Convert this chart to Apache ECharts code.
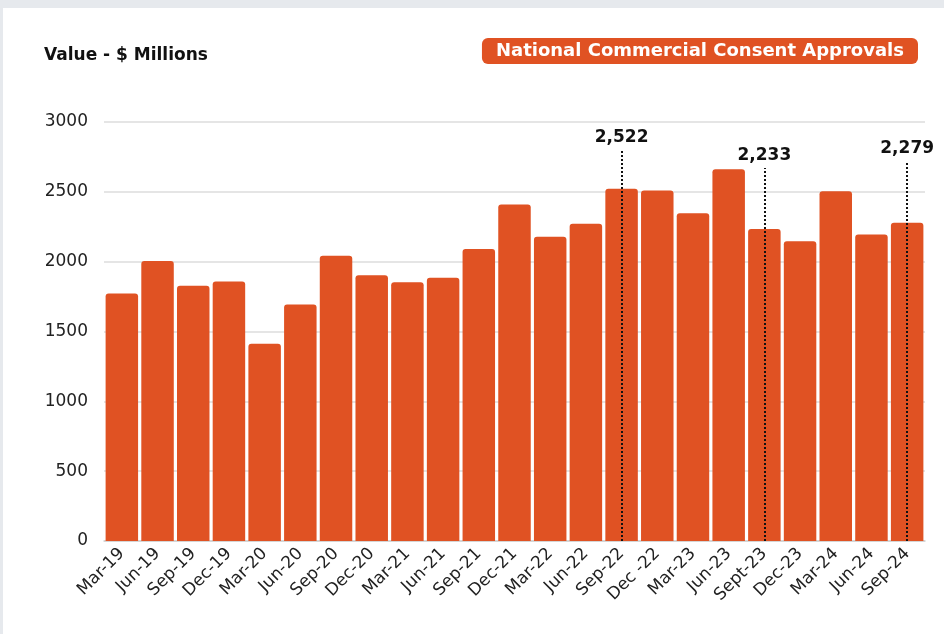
<!DOCTYPE html>
<html><head><meta charset="utf-8">
<style>
html,body{margin:0;padding:0;background:#e6e9ed;}
#wrap{position:absolute;left:3px;top:8px;width:941px;height:626px;background:#fff;}
#c{position:absolute;left:-3px;top:-8px;width:944px;height:634px;}
</style>
<script src="https://cdn.jsdelivr.net/npm/echarts@6/dist/echarts.min.js"></script>
</head><body><div id="wrap"><div id="c"></div></div>
<script>
const categories = ['Mar-19','Jun-19','Sep-19','Dec-19','Mar-20','Jun-20','Sep-20','Dec-20','Mar-21','Jun-21','Sep-21','Dec-21','Mar-22','Jun-22','Sep-22','Dec -22','Mar-23','Jun-23','Sept-23','Dec-23','Mar-24','Jun-24','Sep-24'];
const values = [1772,2005,1828,1858,1412,1693,2042,1902,1852,1885,2090,2410,2178,2271,2522,2510,2346,2661,2233,2147,2505,2195,2279];
const yTicks = {min:0, max:3000, interval:500};
const annotCats = ['Sep-22','Sept-23','Sep-24'];
const annotLabels = ['2,522','2,233','2,279'];
const annotTop = [2800,2670,2720];
const titleText = 'Value - $ Millions';
const seriesName = 'National Commercial Consent Approvals';

const font = '"DejaVu Sans", sans-serif';
const chart = echarts.init(document.getElementById('c'), null, {renderer:'canvas'});
const markData = annotCats.map((c,i)=>[
  {coord:[c,0], symbol:'none'},
  {coord:[c,annotTop[i]], symbol:'none', label:{show:true, position:'end', formatter:annotLabels[i], distance:4}}
]);
chart.setOption({
  animation:false,
  backgroundColor:'transparent',
  title:[
    {text:titleText, left:39, top:42, textStyle:{fontFamily:font, fontSize:17, fontWeight:'bold', color:'#111'}},
    {text:seriesName, right:26, top:38, backgroundColor:'#e05223', borderRadius:6, padding:[4,14,4,14],
     textStyle:{fontFamily:font, fontSize:18, fontWeight:'bold', color:'#fff'}}
  ],
  grid:{left:104, right:19, top:122, bottom:93},
  xAxis:{type:'category', data:categories,
    axisLine:{lineStyle:{color:'#cfcfcf', width:1.5}}, axisTick:{show:false},
    axisLabel:{rotate:45, interval:0, fontFamily:font, fontSize:17, color:'#222', margin:10}},
  yAxis:{type:'value', min:yTicks.min, max:yTicks.max, interval:yTicks.interval,
    axisLine:{show:false}, axisTick:{show:false},
    axisLabel:{fontFamily:font, fontSize:17, color:'#222', margin:16, formatter:v=>String(v)},
    splitLine:{lineStyle:{color:'#dcdcdc', width:1.5}}},
  series:[{
    name:seriesName, type:'bar', data:values, barCategoryGap:'9%',
    itemStyle:{color:'#e05223', borderRadius:[3,3,0,0]},
    markLine:{silent:true, symbol:'none',
      lineStyle:{type:[2,2], color:'#111', width:2},
      label:{fontFamily:font, fontSize:17, fontWeight:'bold', color:'#111'},
      data:markData}
  }]
});
</script></body></html>
